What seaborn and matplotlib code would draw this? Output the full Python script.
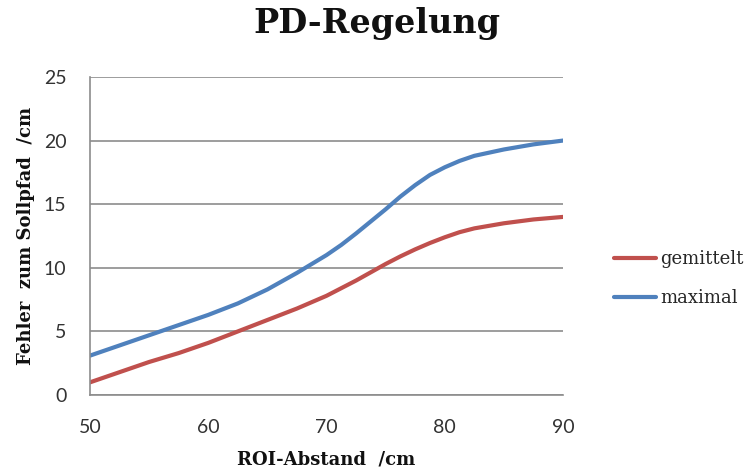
import numpy as np
import pandas as pd
import matplotlib
matplotlib.use("Agg")
import matplotlib.pyplot as plt
from matplotlib.lines import Line2D
import seaborn as sns

abstand = [50, 52.5, 55, 57.5, 60, 62.5, 65, 67.5, 70, 71.25, 72.5, 73.75, 75,
           76.25, 77.5, 78.75, 80, 81.25, 82.5, 83.75, 85, 87.5, 90]
gemittelt = [1.0, 1.8, 2.6, 3.3, 4.1, 5.0, 5.9, 6.8, 7.8, 8.4, 9.0, 9.65, 10.3,
             10.9, 11.45, 11.95, 12.4, 12.8, 13.1, 13.3, 13.5, 13.8, 14.0]
maximal = [3.1, 3.9, 4.7, 5.5, 6.3, 7.2, 8.3, 9.6, 11.0, 11.8, 12.7, 13.65, 14.6,
           15.6, 16.5, 17.3, 17.9, 18.4, 18.8, 19.05, 19.3, 19.7, 20.0]
series_names = ["gemittelt", "maximal"]
colors = ["#C0504D", "#4F81BD"]

df = pd.concat([
    pd.DataFrame({"x": abstand, "y": gemittelt, "Serie": series_names[0]}),
    pd.DataFrame({"x": abstand, "y": maximal, "Serie": series_names[1]}),
])

sns.set_theme(style="white")
serif = ["DejaVu Serif"]
sans = ["Lato", "DejaVu Sans"]

fig = plt.figure(figsize=(7.5, 4.72), dpi=100)
ax = fig.add_axes([0.12, 0.163, 0.6307, 0.674])

sns.lineplot(data=df, x="x", y="y", hue="Serie", palette=colors, linewidth=3.0,
             ax=ax, legend=False)
for ln in ax.lines:
    ln.set_solid_joinstyle("round")
    ln.set_solid_capstyle("round")

ax.set_xlim(50, 90)
ax.set_ylim(0, 25)
ax.set_xticks([50, 60, 70, 80, 90])
ax.set_yticks([0, 5, 10, 15, 20, 25])
ax.yaxis.grid(True, color="#8c8c8c", linewidth=1.2)
ax.xaxis.grid(False)
for s in ["top", "right"]:
    ax.spines[s].set_visible(False)
for s in ["left", "bottom"]:
    ax.spines[s].set_color("#8c8c8c")
    ax.spines[s].set_linewidth(1.2)
ax.tick_params(axis="x", length=0, pad=17, labelsize=14, labelcolor="#333333")
ax.tick_params(axis="y", length=0, pad=17, labelsize=14, labelcolor="#333333")
for lbl in ax.get_xticklabels() + ax.get_yticklabels():
    lbl.set_family(sans)

ax.set_xlabel("ROI-Abstand  /cm", fontsize=13, fontweight="bold", family=serif,
              color="#111111", labelpad=11)
ax.set_ylabel("Fehler  zum Sollpfad  /cm", fontsize=13, fontweight="bold", family=serif,
              color="#111111", labelpad=6)

fig.suptitle("PD-Regelung", x=0.503, y=0.985, fontsize=24, fontweight="bold", family=serif,
             color="#111111")

handles = [Line2D([], [], color=c, linewidth=3.0) for c in colors]
fig.legend(handles, series_names, loc="center left", bbox_to_anchor=(0.797, 0.41),
           frameon=False, prop={"family": serif, "size": 13}, handlelength=2.3,
           handletextpad=0.25, labelspacing=1.15)

fig.savefig("out.png", dpi=100)
